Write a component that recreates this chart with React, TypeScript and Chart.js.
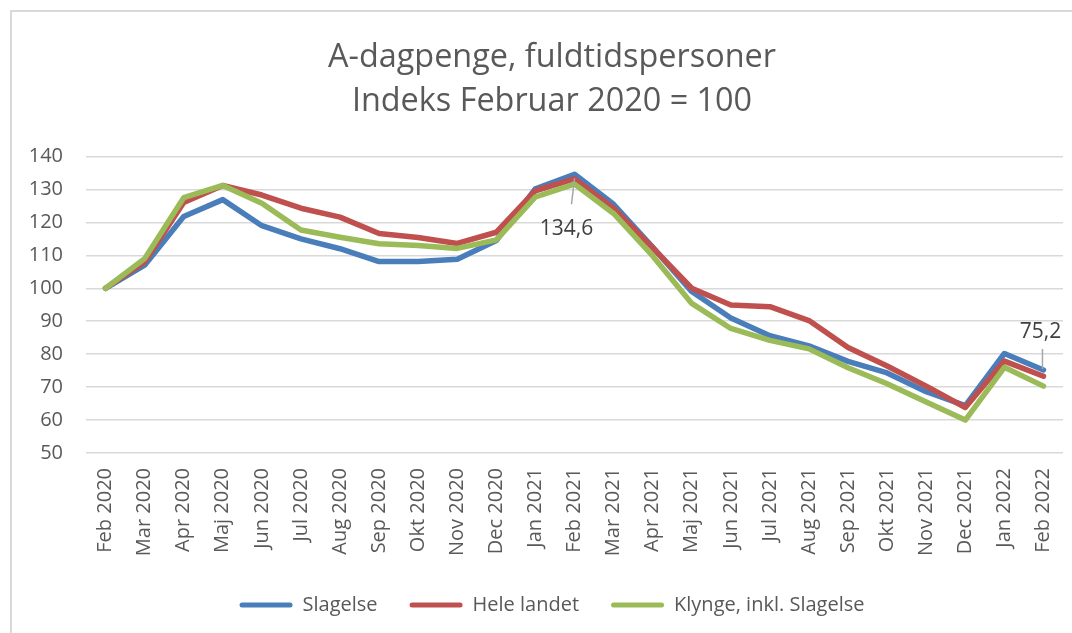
import React, { useEffect, useRef } from "react";
import { Chart, registerables } from "chart.js";

Chart.register(...registerables);

const months = [
  "Feb 2020", "Mar 2020", "Apr 2020", "Maj 2020", "Jun 2020", "Jul 2020", "Aug 2020",
  "Sep 2020", "Okt 2020", "Nov 2020", "Dec 2020", "Jan 2021", "Feb 2021", "Mar 2021",
  "Apr 2021", "Maj 2021", "Jun 2021", "Jul 2021", "Aug 2021", "Sep 2021", "Okt 2021",
  "Nov 2021", "Dec 2021", "Jan 2022", "Feb 2022",
];

const slagelse = [
  100, 107, 121.8, 126.9, 119, 115, 112, 108.1, 108.1, 108.8, 114.5, 130.2, 134.6,
  125.5, 112.5, 99, 91, 85.6, 82.5, 77.8, 74.3, 68.6, 64.4, 80.2, 75.2,
];

const heleLandet = [
  100, 108, 126, 131.2, 128.3, 124.3, 121.6, 116.6, 115.4, 113.6, 117, 129.6, 133.2,
  124.3, 112.3, 100, 94.9, 94.4, 90.2, 82, 76.4, 70.3, 63.8, 77.9, 73.3,
];

const klynge = [
  100, 109, 127.5, 131.2, 125.8, 117.7, 115.5, 113.5, 113, 112.1, 114.7, 127.7, 131.6,
  122.7, 109.8, 95.4, 87.8, 84.2, 81.6, 75.9, 71, 65.5, 60, 76, 70.3,
];

const seriesNames = ["Slagelse", "Hele landet", "Klynge, inkl. Slagelse"];
const titleLines = ["A-dagpenge, fuldtidspersoner", "Indeks Februar 2020 = 100"];
const yMin = 50;
const yMax = 140;
const yStep = 10;

// labelled points: [dataset index, point index, placement]
const labelledPoints: [number, number, "below" | "above"][] = [
  [0, 12, "below"],
  [0, 24, "above"],
];

const FONT = '"Open Sans", "Noto Sans", sans-serif';
const TEXT = "#595959";

const pointLabelPlugin = {
  id: "pointLabels",
  afterDatasetsDraw(chart: any) {
    const ctx = chart.ctx;
    ctx.save();
    labelledPoints.forEach(([ds, idx, place]) => {
      const meta = chart.getDatasetMeta(ds);
      const el = meta.data[idx];
      if (!el) return;
      const value = chart.data.datasets[ds].data[idx] as number;
      const text = value.toFixed(1).replace(".", ",");
      ctx.strokeStyle = "#a6a6a6";
      ctx.lineWidth = 1.5;
      ctx.beginPath();
      if (place === "below") {
        ctx.moveTo(el.x, el.y + 4);
        ctx.lineTo(el.x - 3, el.y + 30);
      } else {
        ctx.moveTo(el.x - 1, el.y - 1);
        ctx.lineTo(el.x - 1, el.y - 21);
      }
      ctx.stroke();
      ctx.font = `21px ${FONT}`;
      ctx.fillStyle = "#404040";
      ctx.textAlign = "center";
      ctx.textBaseline = "middle";
      if (place === "below") {
        ctx.fillText(text, el.x - 8, el.y + 55);
      } else {
        ctx.fillText(text, el.x - 3, el.y - 38);
      }
    });
    ctx.restore();
  },
};

export default function App() {
  const canvasRef = useRef<HTMLCanvasElement | null>(null);

  useEffect(() => {
    if (!canvasRef.current) return;
    const colors = ["#4a7ebb", "#c0504d", "#9bbb59"];
    const datasets = [slagelse, heleLandet, klynge].map((d, i) => ({
      label: seriesNames[i],
      data: d,
      borderColor: colors[i],
      backgroundColor: colors[i],
      borderWidth: 5.5,
      pointRadius: 0,
      pointHoverRadius: 0,
      tension: 0,
      fill: false,
      borderJoinStyle: "round" as const,
      borderCapStyle: "round" as const,
      order: 3 - i,
      yAxisID: "y",
    }));
    const chart = new Chart(canvasRef.current, {
      type: "line",
      data: { labels: months, datasets },
      plugins: [pointLabelPlugin],
      options: {
        animation: false,
        responsive: false,
        maintainAspectRatio: false,
        devicePixelRatio: 1,
        layout: { padding: { left: 0, right: 0, top: 0, bottom: 27 } },
        plugins: {
          tooltip: { enabled: false },
          title: {
            display: true,
            text: titleLines,
            color: TEXT,
            font: { family: FONT, size: 32.4, weight: "normal", lineHeight: 1.35 },
            padding: { top: 24, bottom: 33 },
          },
          legend: {
            display: true,
            position: "bottom",
            labels: {
              color: TEXT,
              font: { family: FONT, size: 20 },
              boxWidth: 53,
              boxHeight: 5,
              padding: 32,
              useBorderRadius: true,
              borderRadius: 2.5,
              sort: (a: any, b: any) => a.datasetIndex - b.datasetIndex,
              generateLabels: (chart: any) =>
                chart.data.datasets.map((ds: any, i: number) => ({
                  text: ds.label,
                  fillStyle: ds.borderColor,
                  strokeStyle: ds.borderColor,
                  lineWidth: 0,
                  fontColor: TEXT,
                  hidden: false,
                  datasetIndex: i,
                  borderRadius: 2.5,
                })),
            },
          },
        },
        scales: {
          x: {
            offset: true,
            grid: { display: false, drawTicks: false },
            border: { display: false },
            ticks: {
              color: TEXT,
              font: { family: FONT, size: 20 },
              minRotation: 90,
              maxRotation: 90,
              autoSkip: false,
              padding: 15,
            },
            afterFit: (scale: any) => {
              scale.height = 110;
            },
          },
          y: {
            min: yMin,
            max: yMax,
            grid: { color: "#d9d9d9", lineWidth: 1.5, drawTicks: false },
            border: { display: false },
            ticks: {
              stepSize: yStep,
              color: TEXT,
              font: { family: FONT, size: 20 },
              padding: 23,
            },
            afterFit: (scale: any) => {
              scale.width = 74;
            },
          },
          spacer: {
            type: "linear",
            position: "right",
            display: true,
            grid: { display: false, drawTicks: false },
            border: { display: false },
            ticks: { display: false },
            afterFit: (scale: any) => {
              scale.width = 29;
            },
          },
        },
      },
    });
    return () => chart.destroy();
  }, []);

  return (
    <div
      style={{
        position: "fixed",
        left: 0,
        top: 0,
        width: 1072,
        height: 633,
        overflow: "hidden",
        background: "#ffffff",
      }}
    >
      <div
        style={{
          position: "absolute",
          left: 10,
          top: 10,
          width: 1080,
          height: 640,
          border: "2px solid #d9d9d9",
          background: "#ffffff",
        }}
      >
        <canvas
          ref={canvasRef}
          width={1080}
          height={640}
          style={{ width: 1080, height: 640, display: "block" }}
        />
      </div>
    </div>
  );
}
